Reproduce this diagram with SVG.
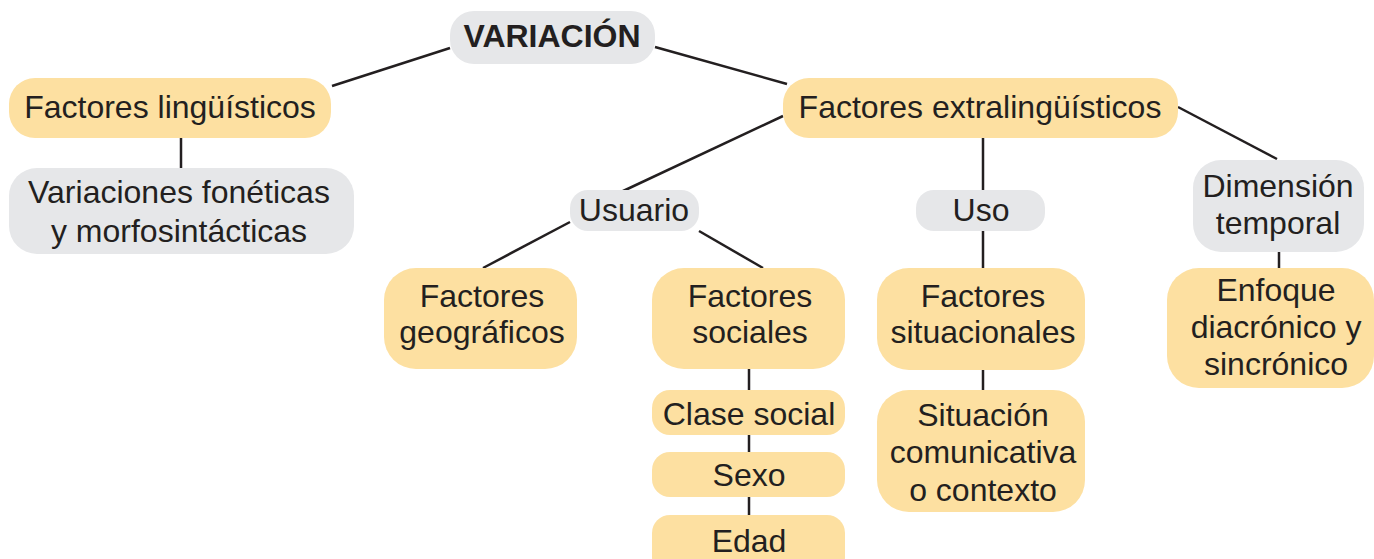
<svg xmlns="http://www.w3.org/2000/svg" width="1374" height="559" viewBox="0 0 1374 559">
<style>
.y{fill:#fde0a1}
.g{fill:#e6e7e9}
text{font-family:"Liberation Sans",Arial,sans-serif;font-size:32px;fill:#231f20;text-anchor:middle}
.b{font-weight:bold}
.c line{stroke:#231f20;stroke-width:2.5}
</style>
<rect width="1374" height="559" fill="#fff"/>
<g class="c" id="connectors">
<line x1="450" y1="48" x2="332" y2="86"/>
<line x1="655" y1="47" x2="787" y2="84"/>
<line x1="181" y1="138" x2="181" y2="168"/>
<line x1="783" y1="116" x2="621" y2="192"/>
<line x1="983" y1="138" x2="983" y2="190"/>
<line x1="983" y1="231" x2="983" y2="268"/>
<line x1="1178" y1="107" x2="1277" y2="159"/>
<line x1="1279" y1="252" x2="1279" y2="268"/>
<line x1="570" y1="222" x2="483" y2="268"/>
<line x1="699" y1="231" x2="763" y2="268"/>
<line x1="749" y1="369" x2="749" y2="390"/>
<line x1="749" y1="435" x2="749" y2="452"/>
<line x1="749" y1="497" x2="749" y2="515"/>
<line x1="983" y1="370" x2="983" y2="390"/>
</g>
<g id="variacion"><rect class="g" x="450" y="11" width="205" height="53" rx="24"/><text class="b" x="552" y="47">VARIACIÓN</text></g>
<g id="ling"><rect class="y" x="9" y="78" width="322" height="60" rx="26"/><text x="170" y="118">Factores lingüísticos</text></g>
<g id="varfon"><rect class="g" x="9" y="168" width="345" height="86" rx="28"/><text x="179" y="203">Variaciones fonéticas</text><text x="179" y="242">y morfosintácticas</text></g>
<g id="extra"><rect class="y" x="783" y="78" width="395" height="60" rx="26"/><text x="980" y="118">Factores extralingüísticos</text></g>
<g id="usuario"><rect class="g" x="570" y="190" width="129" height="41" rx="18"/><text x="634" y="221">Usuario</text></g>
<g id="uso"><rect class="g" x="916" y="190" width="129" height="41" rx="18"/><text x="981" y="221">Uso</text></g>
<g id="dimension"><rect class="g" x="1193" y="160" width="171" height="92" rx="28"/><text x="1278" y="197">Dimensión</text><text x="1278" y="234">temporal</text></g>
<g id="enfoque"><rect class="y" x="1167" y="268" width="207" height="120" rx="32"/><text x="1276" y="301">Enfoque</text><text x="1276" y="338">diacrónico y</text><text x="1276" y="375">sincrónico</text></g>
<g id="geo"><rect class="y" x="384" y="268" width="193" height="101" rx="32"/><text x="482" y="307">Factores</text><text x="482" y="343">geográficos</text></g>
<g id="sociales"><rect class="y" x="652" y="268" width="193" height="101" rx="32"/><text x="750" y="307">Factores</text><text x="750" y="343">sociales</text></g>
<g id="clase"><rect class="y" x="652" y="390" width="193" height="45" rx="18"/><text x="749" y="425">Clase social</text></g>
<g id="sexo"><rect class="y" x="652" y="452" width="193" height="45" rx="18"/><text x="749" y="486">Sexo</text></g>
<g id="edad"><rect class="y" x="652" y="515" width="193" height="60" rx="18"/><text x="749" y="552">Edad</text></g>
<g id="situacionales"><rect class="y" x="877" y="268" width="208" height="102" rx="32"/><text x="983" y="307">Factores</text><text x="983" y="343">situacionales</text></g>
<g id="situacion"><rect class="y" x="877" y="390" width="208" height="122" rx="32"/><text x="983" y="426">Situación</text><text x="983" y="463">comunicativa</text><text x="983" y="501">o contexto</text></g>
</svg>
